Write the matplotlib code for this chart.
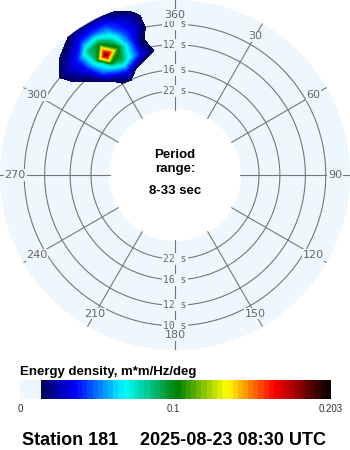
import numpy as np
import matplotlib.pyplot as plt
from matplotlib.colors import ListedColormap, BoundaryNorm, LinearSegmentedColormap

plt.rcParams['font.family'] = ['Liberation Sans', 'DejaVu Sans']

# spectrum grid: directions (deg, clockwise from north) x frequencies (Hz)
directions = [305, 310, 315, 320, 325, 330, 335, 340, 345, 350, 355]
freqs = [0.06, 0.07, 0.08, 0.09, 0.10, 0.11, 0.12, 0.125]
energy = [
    # 305   310    315    320    325    330    335    340    345    350    355
    [0,     0,     0,     0,     0.004, 0.007, 0.008, 0.004, 0,     0,     0],   # 0.06
    [0,     0,     0,     0.005, 0.012, 0.026, 0.035, 0.014, 0.004, 0,     0],   # 0.07
    [0,     0,     0.008, 0.018, 0.05,  0.075, 0.09,  0.06,  0.03,  0.014, 0],   # 0.08
    [0,     0.008, 0.02,  0.035, 0.075, 0.19,  0.11,  0.06,  0.018, 0.008, 0],   # 0.09
    [0.004, 0.013, 0.027, 0.04,  0.085, 0.10,  0.075, 0.045, 0.028, 0.008, 0],   # 0.10
    [0,     0.006, 0.014, 0.022, 0.04,  0.045, 0.045, 0.033, 0.022, 0.006, 0],   # 0.11
    [0,     0,     0.005, 0.009, 0.017, 0.018, 0.017, 0.011, 0.005, 0,     0],   # 0.12
    [0,     0,     0,     0.004, 0.008, 0.01,  0.01,  0.004, 0,     0,     0],   # 0.125
]

ring_periods = [10, 12, 16, 22]
angle_labels = [0, 30, 60, 90, 120, 150, 180, 210, 240, 270, 300, 330]
vmax = 0.203
cbar_ticks = [0, 0.1, 0.203]
cbar_ticklabels = ['0', '0.1', '0.203']

bg = '#eef6fe'
grid_c = '#777777'
lab_c = '#666666'

R0 = 0.0232     # radial offset so that r = f + R0
RMAX = 0.143
def rad(f):
    return f + R0

# colour bands
levels = np.linspace(0, vmax, 61)
mids = (levels[:-1] + levels[1:]) / 2
stops = LinearSegmentedColormap.from_list('spec', [
    (0.0, (0, 0, 0.35)),
    ((0.036 - 0.0135) / (vmax - 0.0135), (0, 0, 1)),
    ((0.068 - 0.0135) / (vmax - 0.0135), (0, 1, 1)),
    ((0.103 - 0.0135) / (vmax - 0.0135), (0, 0.5, 0)),
    ((0.135 - 0.0135) / (vmax - 0.0135), (1, 1, 0)),
    ((0.166 - 0.0135) / (vmax - 0.0135), (1, 0, 0)),
    (1.0, (0, 0, 0)),
])
band_colors = [bg if m < levels[4] else stops((m - levels[4]) / (vmax - levels[4])) for m in mids]
cmap = ListedColormap(band_colors)
norm = BoundaryNorm(levels, 60)

fig = plt.figure(figsize=(3.5, 4.5), dpi=100)
ax = fig.add_axes([0, 100 / 450, 1, 350 / 450], projection='polar')
ax.set_theta_zero_location('N')
ax.set_theta_direction(-1)
ax.set_ylim(0, RMAX)
ax.set_facecolor(bg)
ax.grid(False)
ax.set_xticks([])
ax.set_yticks([])
ax.spines['polar'].set_visible(False)

th = np.linspace(0, 2 * np.pi, 721)
r_in = rad(1 / 33)
ax.fill(th, np.full_like(th, r_in), color='white', zorder=1)

for T in ring_periods:
    ax.plot(th, np.full_like(th, rad(1 / T)), color=grid_c, lw=0.8, zorder=2)
for d in angle_labels:
    t = np.radians(d)
    ax.plot([t, t], [r_in, RMAX], color=grid_c, lw=0.8, zorder=2)
    ax.text(t, 160 / 1224, '360' if d == 0 else str(d), color=lab_c, fontsize=8,
            family='DejaVu Sans', ha='center', va='center', zorder=4,
            bbox=dict(boxstyle='square,pad=0.08', fc=bg, ec='none'))

for T in ring_periods:
    for t in (0, np.pi):
        ax.text(t, rad(1 / T), f'{T} s', color=lab_c, fontsize=7,
                family='DejaVu Sans Mono', ha='center', va='center', zorder=3,
                bbox=dict(boxstyle='square,pad=0.1', fc=bg, ec='none'))

TH, RR = np.meshgrid(np.radians(directions), rad(np.array(freqs)))
Z = np.array(energy)
ax.contourf(TH, RR, Z, levels=levels[4:], colors=band_colors[4:], zorder=5)


def fx(x):
    return x / 350


def fy(y):
    return 1 - y / 450


fig.text(fx(175), fy(158), 'Period', ha='center', va='baseline', fontsize=9.5, weight='bold')
fig.text(fx(175), fy(172), 'range:', ha='center', va='baseline', fontsize=9.5, weight='bold')
fig.text(fx(175), fy(194), '8-33 sec', ha='center', va='baseline', fontsize=9.5, weight='bold')

# colour bar
cax = fig.add_axes([fx(20), fy(399), 311 / 350, 19 / 450])
cax.pcolormesh(levels, [0, 1], mids[None, :], cmap=cmap, norm=norm)
cax.set_xlim(0, vmax)
cax.axis('off')
for v, s in zip(cbar_ticks, cbar_ticklabels):
    fig.text(fx(20 + 311 * v / vmax), fy(412), s, ha='center', va='baseline', fontsize=7, color='#333333')

fig.text(fx(20), fy(375), 'Energy density, m*m/Hz/deg', fontsize=9.5, weight='bold', va='baseline')
fig.text(fx(22), fy(445), 'Station 181', fontsize=13, weight='bold', va='baseline')
fig.text(fx(140), fy(445), '2025-08-23 08:30 UTC', fontsize=13, weight='bold', va='baseline')

fig.savefig('out.png', dpi=100)
